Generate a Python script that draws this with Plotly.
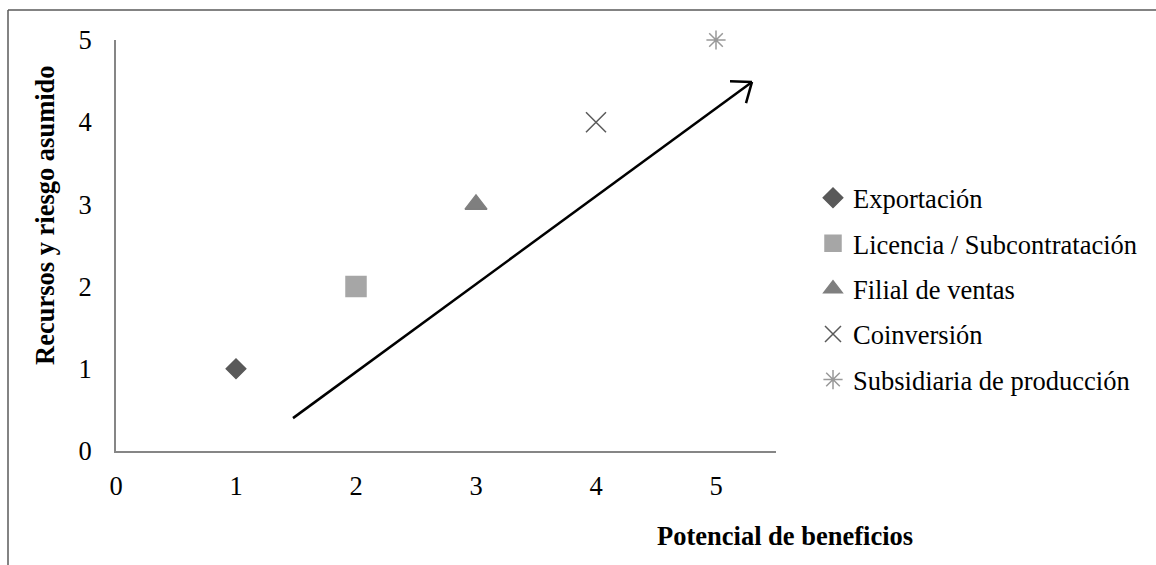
import math
import plotly.graph_objects as go

# ---- data ----
series_names = ["Exportación", "Licencia / Subcontratación", "Filial de ventas",
                "Coinversión", "Subsidiaria de producción"]
x_values = [1, 2, 3, 4, 5]
y_values = [1, 2, 3, 4, 5]
x_ticks = [0, 1, 2, 3, 4, 5]
y_ticks = [0, 1, 2, 3, 4, 5]
arrow_start = (1.475, 0.40)
arrow_end = (5.30, 4.49)

symbols = ["diamond", "square", "triangle-up", "x-thin-open", "asterisk-open"]
colors = ["#595959", "#a6a6a6", "#7f7f7f", "#595959", "#999999"]
sizes = [15, 20, 19, 20, 16]

W, H = 1156, 565
L, R, T, B = 116, 380, 40, 114
pw, ph = W - L - R, H - T - B
XMAX, YMAX = 5.5, 5.0
sx, sy = pw / XMAX, ph / YMAX

FONT = "Liberation Serif, Times New Roman, serif"
FS = 26.5

fig = go.Figure()
for i, name in enumerate(series_names):
    fig.add_trace(go.Scatter(
        x=[x_values[i]], y=[y_values[i]], mode="markers", name=name,
        legendgroup=f"g{i}", cliponaxis=False,
        marker=dict(symbol=symbols[i], color=colors[i], size=sizes[i],
                    line=dict(color=colors[i], width=1.5)),
    ))

# arrow shaft
fig.add_shape(type="line", xref="x", yref="y",
              x0=arrow_start[0], y0=arrow_start[1], x1=arrow_end[0], y1=arrow_end[1],
              line=dict(color="black", width=2.5))
# arrow chevron head (computed in pixel space)
dxp = (arrow_end[0] - arrow_start[0]) * sx
dyp = (arrow_end[1] - arrow_start[1]) * sy
ang = math.atan2(dyp, dxp)
head_len = 22
for s in (+1, -1):
    a = ang + math.pi + s * math.radians(38)
    hx = arrow_end[0] + head_len * math.cos(a) / sx
    hy = arrow_end[1] + head_len * math.sin(a) / sy
    fig.add_shape(type="line", xref="x", yref="y",
                  x0=arrow_end[0], y0=arrow_end[1], x1=hx, y1=hy,
                  line=dict(color="black", width=2.5))

# outer frame lines (top and left), in paper coords
def px2paper_x(px):
    return (px - L) / pw

def py2paper_y(py):
    return (H - B - py) / ph

fig.add_shape(type="line", xref="paper", yref="paper",
              x0=px2paper_x(8), y0=py2paper_y(10), x1=px2paper_x(1160), y1=py2paper_y(10),
              line=dict(color="#5a5a5a", width=1.5))
fig.add_shape(type="line", xref="paper", yref="paper",
              x0=px2paper_x(8), y0=py2paper_y(10), x1=px2paper_x(8), y1=py2paper_y(570),
              line=dict(color="#5a5a5a", width=1.5))

# axis titles
fig.add_annotation(text="<b>Potencial de beneficios</b>", xref="paper", yref="paper",
                   x=px2paper_x(785), y=py2paper_y(536), showarrow=False,
                   xanchor="center", yanchor="middle",
                   font=dict(family=FONT, size=FS, color="black"))
fig.add_annotation(text="<b>Recursos y riesgo asumido</b>", xref="paper", yref="paper",
                   x=px2paper_x(45), y=py2paper_y(215), showarrow=False, textangle=-90,
                   xanchor="center", yanchor="middle",
                   font=dict(family=FONT, size=FS, color="black"))

axis_common = dict(showgrid=False, zeroline=False, showline=True, linecolor="#868686",
                   linewidth=2, ticks="", tickfont=dict(family=FONT, size=FS, color="black"),
                   fixedrange=True)
fig.update_xaxes(range=[0, XMAX], tickvals=x_ticks, ticktext=[str(v) for v in x_ticks],
                 ticklabelstandoff=10, **axis_common)
fig.update_yaxes(range=[0, YMAX], tickvals=y_ticks, ticktext=[str(v) for v in y_ticks],
                 ticklabelstandoff=17, **axis_common)

fig.update_layout(
    width=W, height=H, margin=dict(l=L, r=R, t=T, b=B, autoexpand=False),
    paper_bgcolor="white", plot_bgcolor="white",
    font=dict(family=FONT, size=FS, color="black"),
    showlegend=True,
    legend=dict(x=px2paper_x(813), xanchor="left", y=py2paper_y(289), yanchor="middle",
                bgcolor="rgba(0,0,0,0)", font=dict(family=FONT, size=FS, color="black"),
                tracegroupgap=8, itemclick=False, itemdoubleclick=False),
)

fig.write_html("out.html")
